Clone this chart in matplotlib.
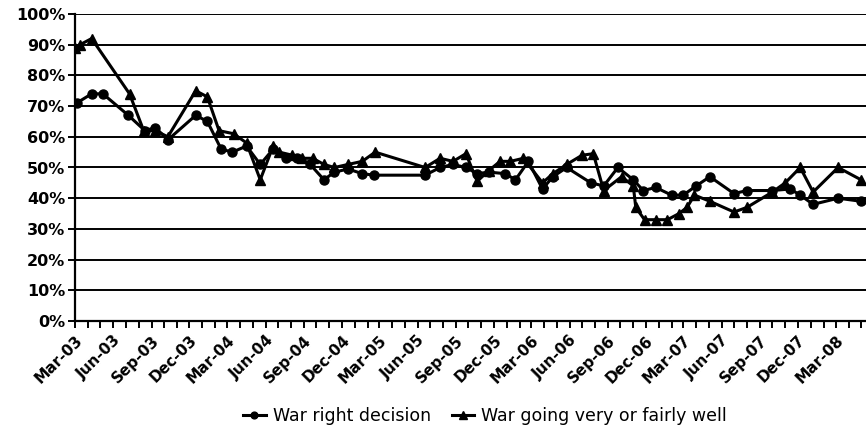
import matplotlib
matplotlib.use("Agg")
import matplotlib.pyplot as plt
import matplotlib.dates as mdates
from matplotlib.ticker import FuncFormatter
import pandas as pd

# survey dates and values
decision_dates = [
    "2003-03-05", "2003-04-10", "2003-05-07", "2003-07-07", "2003-08-16",
    "2003-09-10", "2003-10-10", "2003-12-16", "2004-01-13", "2004-02-15",
    "2004-03-13", "2004-04-16", "2004-05-19", "2004-06-19", "2004-07-19",
    "2004-08-16", "2004-09-16", "2004-10-19", "2004-11-13", "2004-12-16",
    "2005-01-19", "2005-02-16", "2005-06-19", "2005-07-25", "2005-08-25",
    "2005-09-25", "2005-10-22", "2005-11-19", "2005-12-28", "2006-01-22",
    "2006-02-22", "2006-03-28", "2006-04-22", "2006-05-25", "2006-07-22",
    "2006-08-22", "2006-09-25", "2006-11-01", "2006-11-25", "2006-12-25",
    "2007-02-01", "2007-03-01", "2007-04-01", "2007-05-04", "2007-07-01",
    "2007-08-01", "2007-10-01", "2007-11-13", "2007-12-07", "2008-01-07",
    "2008-03-07", "2008-05-01",
]
decision_pct = [
    71, 74, 74, 67, 62, 63, 59, 67, 65, 56,
    55, 57, 51, 56, 53, 53, 51, 46, 48.5, 49.5,
    48, 47.5, 47.5, 50, 51, 50, 48, 48.5, 48, 46,
    52, 43, 47, 50, 45, 44, 50, 46, 42.5, 43.5,
    41, 41, 44, 47, 41.5, 42.5, 42.5, 43, 41, 38,
    40, 39,
]

well_dates = [
    "2003-03-01", "2003-03-13", "2003-04-10", "2003-07-10", "2003-08-13",
    "2003-09-10", "2003-10-10", "2003-12-16", "2004-01-13", "2004-02-10",
    "2004-03-16", "2004-04-16", "2004-05-19", "2004-06-19", "2004-07-04",
    "2004-08-04", "2004-08-28", "2004-09-22", "2004-10-19", "2004-11-13",
    "2004-12-16", "2005-01-19", "2005-02-19", "2005-06-19", "2005-07-25",
    "2005-08-25", "2005-09-25", "2005-10-22", "2005-11-19", "2005-12-16",
    "2006-01-10", "2006-02-10", "2006-03-28", "2006-04-22", "2006-05-25",
    "2006-07-01", "2006-07-28", "2006-08-22", "2006-10-04", "2006-11-01",
    "2006-11-07", "2006-11-28", "2006-12-25", "2007-01-22", "2007-02-19",
    "2007-03-10", "2007-03-28", "2007-05-04", "2007-07-01", "2007-08-01",
    "2007-10-01", "2007-11-01", "2007-12-07", "2008-01-07", "2008-03-07",
    "2008-05-01",
]
well_pct = [
    89, 90, 92, 74, 62, 62, 60, 75, 73, 62,
    61, 58, 46, 57, 55, 54, 53, 53, 51, 50,
    51, 52, 55, 50, 53, 52, 54.5, 45.5, 49, 52,
    52, 53, 45, 48, 51, 54, 54.5, 42.5, 47, 44,
    37, 33, 33, 33, 35, 37, 41, 39, 35.5, 37,
    42, 45, 50, 42, 50, 46,
]

y_ticks = list(range(0, 101, 10))
legend_labels = ["War right decision", "War going very or fairly well"]

fig = plt.figure(figsize=(8.66, 4.36), dpi=100)
ax = fig.add_axes([75 / 866, 115 / 436, 791 / 866, 307 / 436])

x1 = pd.to_datetime(decision_dates)
x2 = pd.to_datetime(well_dates)
ax.plot(x1, decision_pct, color="black", lw=2.2, marker="o", ms=6.5,
        label=legend_labels[0], zorder=3)
ax.plot(x2, well_pct, color="black", lw=2.2, marker="^", ms=7.5,
        label=legend_labels[1], zorder=3)

ax.set_ylim(0, 100)
ax.set_yticks(y_ticks)
ax.yaxis.set_major_formatter(FuncFormatter(lambda v, p: f"{int(v)}%"))
ax.grid(axis="y", color="black", lw=1.4)
ax.set_axisbelow(True)

ax.set_xlim(pd.Timestamp("2003-03-01"), pd.Timestamp("2008-05-13"))
ax.xaxis.set_major_locator(mdates.MonthLocator(bymonth=[3, 6, 9, 12]))
ax.xaxis.set_minor_locator(mdates.MonthLocator())
ax.xaxis.set_major_formatter(mdates.DateFormatter("%b-%y"))

for lbl in ax.get_xticklabels():
    lbl.set_rotation(45)
    lbl.set_ha("right")
    lbl.set_rotation_mode("anchor")
ax.tick_params(axis="x", which="both", length=5, width=1.4, direction="out",
               labelsize=11)
ax.tick_params(axis="y", length=5, width=1.4, labelsize=11.5, pad=2)
for lbl in ax.get_xticklabels() + ax.get_yticklabels():
    lbl.set_fontweight("bold")

for s in ["top", "right"]:
    ax.spines[s].set_visible(False)
for s in ["left", "bottom"]:
    ax.spines[s].set_linewidth(1.6)

# legend sits a bit right of centre in the original
fig.legend(loc="lower center", bbox_to_anchor=(0.56, -0.01), ncol=2,
           frameon=False, fontsize=12.5, handlelength=1.3, markerscale=0.75,
           columnspacing=1.2, handletextpad=0.4)

fig.savefig("out.png", dpi=100)
